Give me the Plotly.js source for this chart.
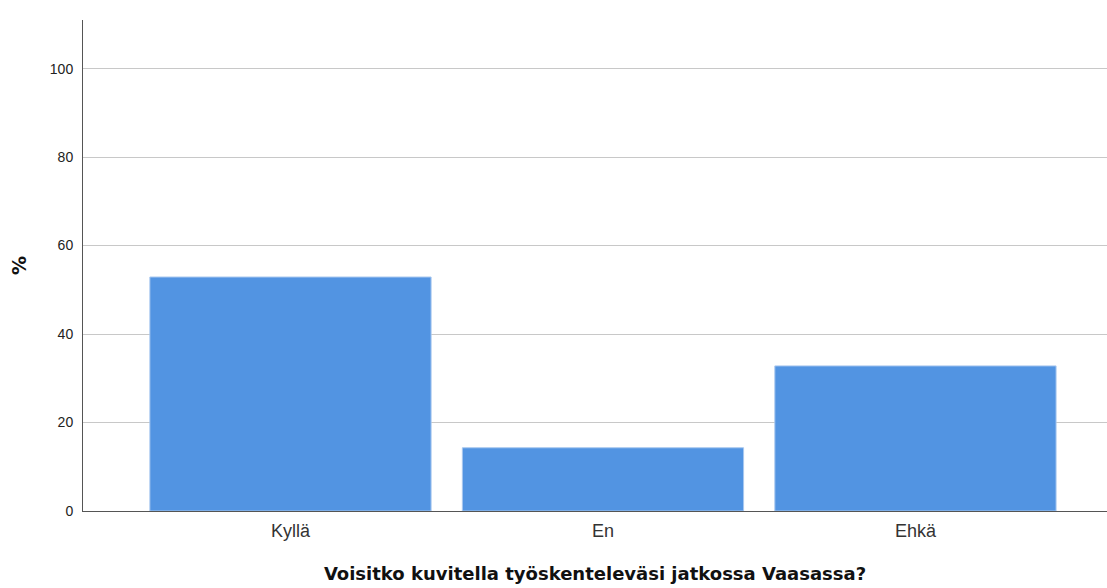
<!DOCTYPE html>
<html>
<head>
<meta charset="utf-8">
<script src="https://cdn.plot.ly/plotly-3.0.1.min.js"></script>
<style>html,body{margin:0;padding:0;background:#fff;}#chart{width:1107px;height:588px;}</style>
</head>
<body>
<div id="chart"></div>
<script>
const categories = ["Kyllä", "En", "Ehkä"];
const percentages = [52.9, 14.3, 32.8];
const yTickValues = [0, 20, 40, 60, 80, 100];
const xTitle = "Voisitko kuvitella työskenteleväsi jatkossa Vaasassa?";
const yTitle = "%";

const trace = {
  type: "bar",
  x: categories,
  y: percentages,
  width: 0.9,
  marker: { color: "#5294e2", line: { color: "#a9c8ef", width: 1 } },
  hoverinfo: "x+y"
};

const layout = {
  width: 1107, height: 588,
  margin: { l: 83, r: 0, t: 20, b: 77 },
  paper_bgcolor: "#ffffff", plot_bgcolor: "#ffffff",
  font: { family: "Liberation Sans, Arial, sans-serif", color: "#222" },
  showlegend: false,
  xaxis: {
    type: "category",
    range: [-0.664, 2.613],
    showline: true, linecolor: "#555", linewidth: 1,
    showgrid: false, zeroline: false, ticks: "",
    tickfont: { size: 18, color: "#333" },
    ticklabelstandoff: 3,
    title: { text: xTitle, font: { family: "DejaVu Sans, sans-serif", size: 18, color: "#111", weight: "bold" }, standoff: 27 }
  },
  yaxis: {
    range: [0, 111],
    tickvals: yTickValues,
    showline: true, linecolor: "#555", linewidth: 1,
    showgrid: true, gridcolor: "#c8c8c8", gridwidth: 1,
    zeroline: false, ticks: "",
    tickfont: { size: 14, color: "#222" },
    ticklabelstandoff: 6,
    title: { text: yTitle, font: { family: "DejaVu Sans, sans-serif", size: 19, color: "#111", weight: "bold" }, standoff: 18 }
  }
};

Plotly.newPlot("chart", [trace], layout, { displayModeBar: false, staticPlot: true });
</script>
</body>
</html>
